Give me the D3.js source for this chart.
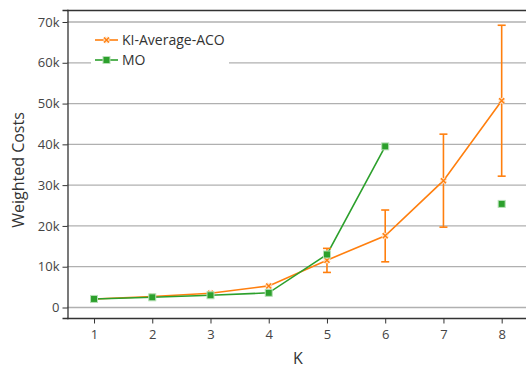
<!DOCTYPE html>
<html><head><meta charset="utf-8">
<script src="https://cdn.jsdelivr.net/npm/d3@7"></script>
<style>
body{margin:0;background:#fff;}
svg{display:block;font-family:"Open Sans",sans-serif;}
</style></head>
<body><svg id="c" width="526" height="369"></svg>
<script>
const kValues = [1,2,3,4,5,6,7,8];
const acoMean = [2100, 2700, 3500, 5300, 11600, 17600, 31100, 50700];
const acoLow  = [null, null, null, null, 8600, 11200, 19700, 32200];
const acoHigh = [null, null, null, null, 14500, 23900, 42500, 69200];
const moK = [1,2,3,4,5,6,8];
const moMean = [2100, 2500, 3000, 3600, 13000, 39500, 25400];
const moSegments = [[0,1,2,3,4,5],[6]];
const yTicks = [0,10000,20000,30000,40000,50000,60000,70000];
const seriesNames = ["KI-Average-ACO","MO"];
const colors = ["#ff7f0e","#2ca02c"];

const svg = d3.select("#c");
const x = d3.scaleLinear().domain([0.536, 8.464]).range([67, 528.7]);
const y = d3.scaleLinear().domain([-2574, 72940]).range([318, 10]);

// grid
svg.append("g").selectAll("line").data(yTicks).join("line")
  .attr("x1",67).attr("x2",526).attr("y1",d=>y(d)).attr("y2",d=>y(d))
  .attr("stroke","#b0b0b0").attr("stroke-width",1.3);

// frame
svg.append("line").attr("x1",67).attr("x2",526).attr("y1",10.5).attr("y2",10.5).attr("stroke","#333").attr("stroke-width",1.3);
const yAxis = d3.axisLeft(y).tickValues(yTicks).tickSize(5).tickPadding(3).tickFormat(d=>d===0?"0":(d/1000)+"k");
const ga = svg.append("g").attr("transform","translate(67.5,0)").call(yAxis);
const xAxis = d3.axisBottom(x).tickValues(kValues).tickSize(5).tickPadding(6).tickFormat(d3.format("d"));
const gx = svg.append("g").attr("transform","translate(0,318.5)").call(xAxis);
[ga,gx].forEach(g=>{
  g.select(".domain").attr("stroke","#333").attr("stroke-width",1.3);
  g.selectAll(".tick line").attr("stroke","#333");
  g.selectAll("text").attr("fill","#444").style("font-size","13px").style("font-family","'Open Sans',sans-serif");
});
gx.select(".domain").attr("d","M67,0H526");

// axis labels
svg.append("text").attr("x",298).attr("y",364).attr("text-anchor","middle").attr("fill","#333").style("font-size","16px").text("K");
svg.append("text").attr("transform","translate(24,170) rotate(-90)").attr("text-anchor","middle").attr("fill","#333").style("font-size","16px").text("Weighted Costs");

// ACO line
const line = d3.line().x(d=>x(d[0])).y(d=>y(d[1]));
svg.append("path").datum(kValues.map((k,i)=>[k,acoMean[i]])).attr("d",line)
  .attr("fill","none").attr("stroke",colors[0]).attr("stroke-width",1.6);
// MO segments
moSegments.forEach(seg=>{
  if(seg.length>1) svg.append("path").datum(seg.map(i=>[moK[i],moMean[i]])).attr("d",line)
    .attr("fill","none").attr("stroke",colors[1]).attr("stroke-width",1.6);
});

// error bars
const eb = svg.append("g").attr("stroke",colors[0]).attr("stroke-width",1.6);
kValues.forEach((k,i)=>{
  if(acoLow[i]==null) return;
  const cx = x(k);
  eb.append("line").attr("x1",cx).attr("x2",cx).attr("y1",y(acoLow[i])).attr("y2",y(acoHigh[i]));
  eb.append("line").attr("x1",cx-4).attr("x2",cx+4).attr("y1",y(acoLow[i])).attr("y2",y(acoLow[i]));
  eb.append("line").attr("x1",cx-4).attr("x2",cx+4).attr("y1",y(acoHigh[i])).attr("y2",y(acoHigh[i]));
});

function drawX(g,cx,cy){
  const s=2.5;
  g.append("path").attr("d",`M${cx-s},${cy-s}L${cx+s},${cy+s}M${cx-s},${cy+s}L${cx+s},${cy-s}`)
    .attr("stroke","#ffe0c4").attr("stroke-width",3.5).attr("fill","none");
  g.append("path").attr("d",`M${cx-s},${cy-s}L${cx+s},${cy+s}M${cx-s},${cy+s}L${cx+s},${cy-s}`)
    .attr("stroke",colors[0]).attr("stroke-width",1.4).attr("fill","none");
}
function drawSq(g,cx,cy){
  g.append("rect").attr("x",cx-3.5).attr("y",cy-3.5).attr("width",7).attr("height",7)
    .attr("fill",colors[1]).attr("stroke","#b7e0b7").attr("stroke-width",1);
}
const mk = svg.append("g");
kValues.forEach((k,i)=>drawX(mk,x(k),y(acoMean[i])));
moK.forEach((k,i)=>drawSq(mk,x(k),y(moMean[i])));

// legend
const lg = svg.append("g");
lg.append("rect").attr("x",91).attr("y",28).attr("width",138).attr("height",43).attr("fill","#fff");
seriesNames.forEach((n,i)=>{
  const cy = 40 + i*20;
  lg.append("line").attr("x1",95).attr("x2",118).attr("y1",cy).attr("y2",cy).attr("stroke",colors[i]).attr("stroke-width",1.6);
  if(i===0) drawX(lg,106.5,cy); else drawSq(lg,106.5,cy);
  lg.append("text").attr("x",122).attr("y",cy+5).attr("fill","#333").style("font-size","14px").text(n);
});
</script></body></html>
